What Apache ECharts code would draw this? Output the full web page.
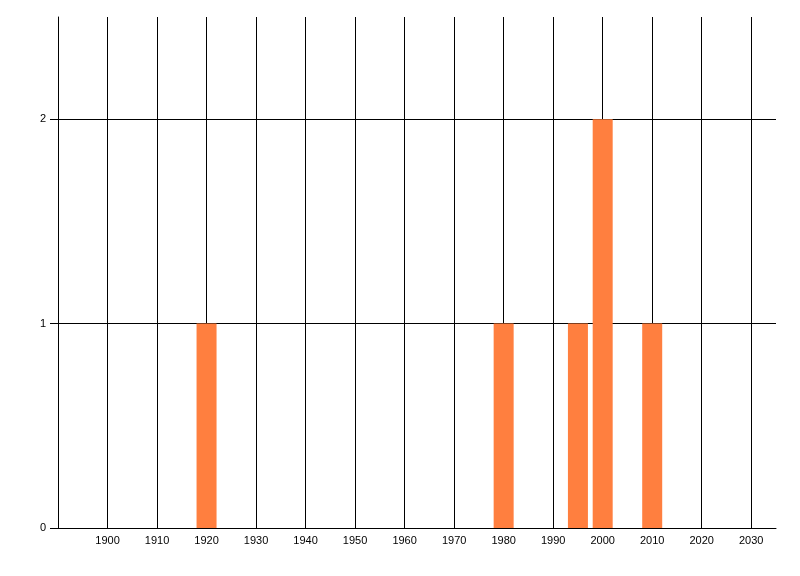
<!DOCTYPE html>
<html>
<head>
<meta charset="utf-8">
<script src="https://cdn.jsdelivr.net/npm/echarts@6/dist/echarts.min.js"></script>
<style>html,body{margin:0;padding:0;background:#fff}#c{width:800px;height:576px}</style>
</head>
<body>
<div id="c"></div>
<script>
const years = [1920, 1980, 1995, 2000, 2010];
const counts = [1, 1, 1, 2, 1];
const xTickLabels = [1900, 1910, 1920, 1930, 1940, 1950, 1960, 1970, 1980, 1990, 2000, 2010, 2020, 2030];
const yTickLabels = [0, 1, 2];

const chart = echarts.init(document.getElementById('c'), null, {renderer: 'canvas'});
const font = {fontFamily: 'Liberation Sans, Arial, sans-serif', fontSize: 11, color: '#000'};
chart.setOption({
  animation: false,
  backgroundColor: '#fff',
  grid: {left: 58, right: 24, top: 17, bottom: 48, containLabel: false},
  xAxis: {
    type: 'value', min: 1890, max: 2035, interval: 10,
    axisLine: {show: true, lineStyle: {color: '#000', width: 1}},
    axisTick: {show: false},
    axisLabel: Object.assign({margin: 7, customValues: xTickLabels, formatter: v => String(v)}, font),
    splitLine: {show: true, showMinLine: true, showMaxLine: false, lineStyle: {color: '#000', width: 1}}
  },
  yAxis: {
    type: 'value', min: 0, max: 2.5, interval: 1,
    axisLine: {show: true, lineStyle: {color: '#000', width: 1}},
    axisTick: {show: true, length: 8, customValues: yTickLabels, lineStyle: {color: '#000'}},
    axisLabel: Object.assign({margin: 12, customValues: yTickLabels}, font),
    splitLine: {show: true, showMinLine: false, showMaxLine: true, lineStyle: {color: ['#000', '#000', '#000', 'rgba(0,0,0,0)'], width: 1}}
  },
  series: [{
    type: 'bar',
    data: years.map((y, i) => [y, counts[i]]),
    barWidth: 20,
    itemStyle: {color: '#ff7f3f'},
    z: 3
  }]
});
</script>
</body>
</html>
